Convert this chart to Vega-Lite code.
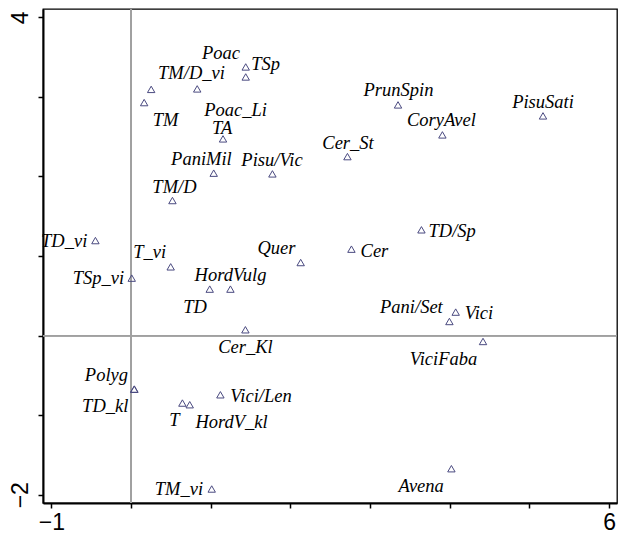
{
  "$schema": "https://vega.github.io/schema/vega-lite/v6.json",
  "width": 574,
  "height": 494,
  "autosize": "none",
  "padding": {"left": 43, "top": 9, "right": 6, "bottom": 32},
  "background": "white",
  "config": {
    "view": {"stroke": "black", "strokeWidth": 1.3},
    "axis": {
      "grid": false,
      "domainColor": "black",
      "domainWidth": 2,
      "tickColor": "black",
      "tickWidth": 1.5,
      "tickSize": 5,
      "labelColor": "black",
      "labelFont": "Arial",
      "labelFontSize": 23,
      "title": null
    }
  },
  "datasets": {
    "sp": [
      {"name": "TM/D_vi", "x": 0.252, "y": 3.094, "lx": 0.758, "ly": 3.297},
      {"name": "Poac_Li", "x": 0.830, "y": 3.100, "lx": 1.311, "ly": 2.836},
      {"name": "TM", "x": 0.164, "y": 2.928, "lx": 0.432, "ly": 2.710},
      {"name": "Poac", "x": 1.439, "y": 3.376, "lx": 1.129, "ly": 3.548},
      {"name": "TSp", "x": 1.439, "y": 3.250, "lx": 1.690, "ly": 3.414},
      {"name": "TA", "x": 1.154, "y": 2.472, "lx": 1.144, "ly": 2.606},
      {"name": "PaniMil", "x": 1.037, "y": 2.041, "lx": 0.883, "ly": 2.217},
      {"name": "Pisu/Vic", "x": 1.774, "y": 2.032, "lx": 1.769, "ly": 2.208},
      {"name": "TM/D", "x": 0.519, "y": 1.697, "lx": 0.544, "ly": 1.865},
      {"name": "TD_vi", "x": -0.448, "y": 1.194, "lx": -0.840, "ly": 1.194},
      {"name": "Quer", "x": 2.129, "y": 0.918, "lx": 1.824, "ly": 1.099},
      {"name": "T_vi", "x": 0.497, "y": 0.864, "lx": 0.234, "ly": 1.056},
      {"name": "TSp_vi", "x": 0.008, "y": 0.722, "lx": -0.409, "ly": 0.722},
      {"name": "TD", "x": 0.987, "y": 0.584, "lx": 0.802, "ly": 0.365},
      {"name": "HordVulg", "x": 1.247, "y": 0.584, "lx": 1.248, "ly": 0.764},
      {"name": "Cer_Kl", "x": 1.435, "y": 0.073, "lx": 1.436, "ly": -0.144},
      {"name": "Polyg", "x": 0.041, "y": -0.672, "lx": -0.310, "ly": -0.492},
      {"name": "TD_kl", "x": 0.039, "y": -0.675, "lx": -0.325, "ly": -0.890},
      {"name": "Vici/Len", "x": 1.121, "y": -0.744, "lx": 1.631, "ly": -0.765},
      {"name": "T", "x": 0.644, "y": -0.848, "lx": 0.544, "ly": -1.058},
      {"name": "HordV_kl", "x": 0.736, "y": -0.869, "lx": 1.261, "ly": -1.091},
      {"name": "TM_vi", "x": 1.012, "y": -1.928, "lx": 0.600, "ly": -1.928},
      {"name": "PrunSpin", "x": 3.351, "y": 2.899, "lx": 3.357, "ly": 3.087},
      {"name": "PisuSati", "x": 5.171, "y": 2.761, "lx": 5.171, "ly": 2.940},
      {"name": "CoryAvel", "x": 3.908, "y": 2.522, "lx": 3.896, "ly": 2.710},
      {"name": "Cer_St", "x": 2.716, "y": 2.249, "lx": 2.723, "ly": 2.418},
      {"name": "TD/Sp", "x": 3.645, "y": 1.329, "lx": 4.031, "ly": 1.316},
      {"name": "Cer", "x": 2.766, "y": 1.086, "lx": 3.055, "ly": 1.069},
      {"name": "Vici", "x": 4.075, "y": 0.295, "lx": 4.367, "ly": 0.283},
      {"name": "Pani/Set", "x": 3.996, "y": 0.177, "lx": 3.519, "ly": 0.365},
      {"name": "ViciFaba", "x": 4.418, "y": -0.074, "lx": 3.922, "ly": -0.295},
      {"name": "Avena", "x": 4.021, "y": -1.673, "lx": 3.642, "ly": -1.895}
    ]
  },
  "data": {"name": "sp"},
  "encoding": {
    "x": {
      "type": "quantitative",
      "scale": {"domain": [-1.106, 6.1], "nice": false, "zero": false},
      "axis": {
        "values": [-1, 0, 1, 2, 3, 4, 5, 6],
        "labelExpr": "datum.value == -1 || datum.value == 6 ? datum.label : ''",
        "labelPadding": 3,
        "labelFlush": false
      }
    },
    "y": {
      "type": "quantitative",
      "scale": {"domain": [-2.104, 4.104], "nice": false, "zero": false},
      "axis": {
        "values": [-2, -1, 0, 1, 2, 3, 4],
        "labelExpr": "datum.value == -2 || datum.value == 4 ? datum.label : ''",
        "labelAngle": -90,
        "labelAlign": "center",
        "labelBaseline": "alphabetic",
        "labelPadding": 11,
        "labelFlush": false
      }
    }
  },
  "layer": [
    {
      "mark": {"type": "rule", "color": "#a0a0a0", "strokeWidth": 1},
      "encoding": {"x": {"datum": 0}, "y": null}
    },
    {
      "mark": {"type": "rule", "color": "#a0a0a0", "strokeWidth": 1},
      "encoding": {"y": {"datum": 0}, "x": null}
    },
    {
      "mark": {"type": "point", "shape": "triangle-up", "size": 55, "filled": false, "stroke": "#4a4a80", "strokeWidth": 1, "opacity": 1},
      "encoding": {"x": {"field": "x"}, "y": {"field": "y"}}
    },
    {
      "mark": {"type": "text", "font": "Times New Roman", "fontStyle": "italic", "fontSize": 18.5, "color": "black", "align": "center", "baseline": "middle"},
      "encoding": {"x": {"field": "lx"}, "y": {"field": "ly"}, "text": {"field": "name"}}
    }
  ]
}
